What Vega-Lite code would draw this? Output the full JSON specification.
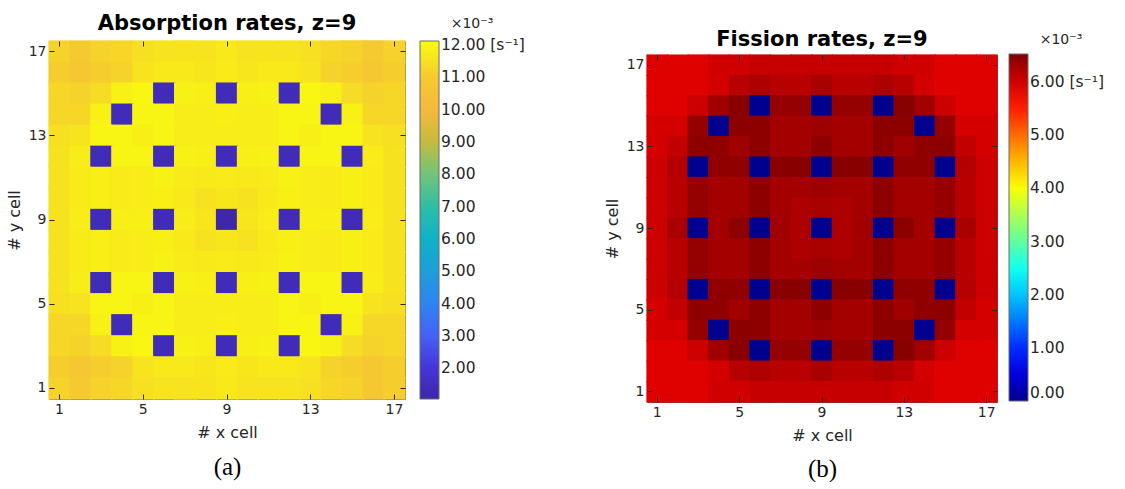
{
  "$schema": "https://vega.github.io/schema/vega-lite/v6.json",
  "background": "white",
  "padding": {"left": 5, "top": 12, "right": 0, "bottom": 0},
  "config": {
    "font": "DejaVu Sans",
    "view": {"stroke": "#5a5a5a", "strokeWidth": 1},
    "axis": {"labelFontSize": 14, "labelColor": "#262626", "tickColor": "#262626", "titleFontSize": 16, "titleFontWeight": "normal", "titleColor": "#262626", "domain": false, "tickSize": -5, "labelPadding": 8, "labelAngle": 0, "grid": false},
    "title": {"fontSize": 21, "fontWeight": "bold", "color": "#000000", "offset": 6},
    "legend": {"type": "gradient", "gradientThickness": 19, "gradientStrokeColor": "#6b6b6b", "gradientStrokeWidth": 1, "labelFontSize": 15.5, "labelColor": "#262626", "labelOffset": 5, "titleFontSize": 14, "titleFontWeight": "normal", "titleColor": "#262626", "titleAnchor": "middle", "titlePadding": 10, "labelOverlap": false}
  },
  "datasets": {
    "cells": [
      {"x":1,"y":17,"a":11.2,"f":5.91},{"x":2,"y":17,"a":11.0,"f":5.91},{"x":3,"y":17,"a":11.2,"f":5.91},{"x":4,"y":17,"a":11.3,"f":6.00},{"x":5,"y":17,"a":11.5,"f":6.00},{"x":6,"y":17,"a":11.6,"f":6.07},{"x":7,"y":17,"a":11.6,"f":6.07},{"x":8,"y":17,"a":11.6,"f":6.07},{"x":9,"y":17,"a":11.7,"f":6.07},{"x":10,"y":17,"a":11.6,"f":6.07},{"x":11,"y":17,"a":11.6,"f":6.07},{"x":12,"y":17,"a":11.6,"f":6.07},{"x":13,"y":17,"a":11.5,"f":6.00},{"x":14,"y":17,"a":11.3,"f":6.00},{"x":15,"y":17,"a":11.2,"f":5.91},{"x":16,"y":17,"a":11.0,"f":5.91},{"x":17,"y":17,"a":11.2,"f":5.91},
      {"x":1,"y":16,"a":11.1,"f":5.91},{"x":2,"y":16,"a":10.9,"f":5.91},{"x":3,"y":16,"a":11.1,"f":5.91},{"x":4,"y":16,"a":11.2,"f":5.98},{"x":5,"y":16,"a":11.6,"f":6.16},{"x":6,"y":16,"a":11.7,"f":6.22},{"x":7,"y":16,"a":11.7,"f":6.16},{"x":8,"y":16,"a":11.65,"f":6.16},{"x":9,"y":16,"a":11.75,"f":6.26},{"x":10,"y":16,"a":11.65,"f":6.16},{"x":11,"y":16,"a":11.7,"f":6.16},{"x":12,"y":16,"a":11.7,"f":6.22},{"x":13,"y":16,"a":11.6,"f":6.16},{"x":14,"y":16,"a":11.2,"f":5.98},{"x":15,"y":16,"a":11.1,"f":5.91},{"x":16,"y":16,"a":10.9,"f":5.91},{"x":17,"y":16,"a":11.1,"f":5.91},
      {"x":1,"y":15,"a":11.3,"f":5.91},{"x":2,"y":15,"a":11.2,"f":5.91},{"x":3,"y":15,"a":11.4,"f":6.03},{"x":4,"y":15,"a":11.9,"f":6.32},{"x":5,"y":15,"a":12.0,"f":6.48},{"x":6,"y":15,"a":1.4,"f":0},{"x":7,"y":15,"a":11.9,"f":6.39},{"x":8,"y":15,"a":11.85,"f":6.39},{"x":9,"y":15,"a":1.4,"f":0},{"x":10,"y":15,"a":11.85,"f":6.39},{"x":11,"y":15,"a":11.9,"f":6.39},{"x":12,"y":15,"a":1.4,"f":0},{"x":13,"y":15,"a":12.0,"f":6.48},{"x":14,"y":15,"a":11.9,"f":6.32},{"x":15,"y":15,"a":11.4,"f":6.03},{"x":16,"y":15,"a":11.2,"f":5.91},{"x":17,"y":15,"a":11.3,"f":5.91},
      {"x":1,"y":14,"a":11.3,"f":5.98},{"x":2,"y":14,"a":11.3,"f":5.98},{"x":3,"y":14,"a":11.9,"f":6.39},{"x":4,"y":14,"a":1.4,"f":0},{"x":5,"y":14,"a":11.95,"f":6.45},{"x":6,"y":14,"a":11.95,"f":6.45},{"x":7,"y":14,"a":11.8,"f":6.29},{"x":8,"y":14,"a":11.8,"f":6.29},{"x":9,"y":14,"a":11.85,"f":6.35},{"x":10,"y":14,"a":11.8,"f":6.29},{"x":11,"y":14,"a":11.8,"f":6.29},{"x":12,"y":14,"a":11.95,"f":6.45},{"x":13,"y":14,"a":11.95,"f":6.45},{"x":14,"y":14,"a":1.4,"f":0},{"x":15,"y":14,"a":11.9,"f":6.39},{"x":16,"y":14,"a":11.3,"f":5.98},{"x":17,"y":14,"a":11.3,"f":5.98},
      {"x":1,"y":13,"a":11.5,"f":5.98},{"x":2,"y":13,"a":11.6,"f":6.10},{"x":3,"y":13,"a":11.95,"f":6.45},{"x":4,"y":13,"a":11.95,"f":6.42},{"x":5,"y":13,"a":11.85,"f":6.32},{"x":6,"y":13,"a":11.95,"f":6.45},{"x":7,"y":13,"a":11.8,"f":6.29},{"x":8,"y":13,"a":11.8,"f":6.29},{"x":9,"y":13,"a":11.8,"f":6.45},{"x":10,"y":13,"a":11.8,"f":6.29},{"x":11,"y":13,"a":11.8,"f":6.29},{"x":12,"y":13,"a":11.95,"f":6.45},{"x":13,"y":13,"a":11.85,"f":6.32},{"x":14,"y":13,"a":11.95,"f":6.42},{"x":15,"y":13,"a":11.95,"f":6.45},{"x":16,"y":13,"a":11.6,"f":6.10},{"x":17,"y":13,"a":11.5,"f":5.98},
      {"x":1,"y":12,"a":11.55,"f":6.03},{"x":2,"y":12,"a":11.8,"f":6.19},{"x":3,"y":12,"a":1.4,"f":0},{"x":4,"y":12,"a":11.95,"f":6.42},{"x":5,"y":12,"a":11.95,"f":6.42},{"x":6,"y":12,"a":1.4,"f":0},{"x":7,"y":12,"a":11.9,"f":6.48},{"x":8,"y":12,"a":11.85,"f":6.48},{"x":9,"y":12,"a":1.4,"f":0},{"x":10,"y":12,"a":11.85,"f":6.48},{"x":11,"y":12,"a":11.9,"f":6.48},{"x":12,"y":12,"a":1.4,"f":0},{"x":13,"y":12,"a":11.95,"f":6.42},{"x":14,"y":12,"a":11.95,"f":6.42},{"x":15,"y":12,"a":1.4,"f":0},{"x":16,"y":12,"a":11.8,"f":6.19},{"x":17,"y":12,"a":11.55,"f":6.03},
      {"x":1,"y":11,"a":11.55,"f":6.03},{"x":2,"y":11,"a":11.75,"f":6.16},{"x":3,"y":11,"a":11.85,"f":6.39},{"x":4,"y":11,"a":11.75,"f":6.29},{"x":5,"y":11,"a":11.8,"f":6.29},{"x":6,"y":11,"a":11.9,"f":6.45},{"x":7,"y":11,"a":11.75,"f":6.29},{"x":8,"y":11,"a":11.7,"f":6.29},{"x":9,"y":11,"a":11.75,"f":6.35},{"x":10,"y":11,"a":11.7,"f":6.29},{"x":11,"y":11,"a":11.75,"f":6.29},{"x":12,"y":11,"a":11.9,"f":6.45},{"x":13,"y":11,"a":11.8,"f":6.29},{"x":14,"y":11,"a":11.75,"f":6.29},{"x":15,"y":11,"a":11.85,"f":6.39},{"x":16,"y":11,"a":11.75,"f":6.16},{"x":17,"y":11,"a":11.55,"f":6.03},
      {"x":1,"y":10,"a":11.55,"f":6.03},{"x":2,"y":10,"a":11.75,"f":6.16},{"x":3,"y":10,"a":11.85,"f":6.39},{"x":4,"y":10,"a":11.75,"f":6.29},{"x":5,"y":10,"a":11.8,"f":6.29},{"x":6,"y":10,"a":11.85,"f":6.45},{"x":7,"y":10,"a":11.7,"f":6.29},{"x":8,"y":10,"a":11.55,"f":6.22},{"x":9,"y":10,"a":11.65,"f":6.26},{"x":10,"y":10,"a":11.55,"f":6.22},{"x":11,"y":10,"a":11.7,"f":6.29},{"x":12,"y":10,"a":11.85,"f":6.45},{"x":13,"y":10,"a":11.8,"f":6.29},{"x":14,"y":10,"a":11.75,"f":6.29},{"x":15,"y":10,"a":11.85,"f":6.39},{"x":16,"y":10,"a":11.75,"f":6.16},{"x":17,"y":10,"a":11.55,"f":6.03},
      {"x":1,"y":9,"a":11.55,"f":6.03},{"x":2,"y":9,"a":11.8,"f":6.26},{"x":3,"y":9,"a":1.4,"f":0},{"x":4,"y":9,"a":11.85,"f":6.29},{"x":5,"y":9,"a":11.85,"f":6.45},{"x":6,"y":9,"a":1.4,"f":0},{"x":7,"y":9,"a":11.8,"f":6.32},{"x":8,"y":9,"a":11.65,"f":6.22},{"x":9,"y":9,"a":1.12,"f":0},{"x":10,"y":9,"a":11.65,"f":6.22},{"x":11,"y":9,"a":11.8,"f":6.32},{"x":12,"y":9,"a":1.4,"f":0},{"x":13,"y":9,"a":11.85,"f":6.45},{"x":14,"y":9,"a":11.85,"f":6.29},{"x":15,"y":9,"a":1.4,"f":0},{"x":16,"y":9,"a":11.8,"f":6.26},{"x":17,"y":9,"a":11.55,"f":6.03},
      {"x":1,"y":8,"a":11.55,"f":6.03},{"x":2,"y":8,"a":11.75,"f":6.16},{"x":3,"y":8,"a":11.85,"f":6.39},{"x":4,"y":8,"a":11.75,"f":6.29},{"x":5,"y":8,"a":11.8,"f":6.29},{"x":6,"y":8,"a":11.85,"f":6.45},{"x":7,"y":8,"a":11.7,"f":6.29},{"x":8,"y":8,"a":11.55,"f":6.22},{"x":9,"y":8,"a":11.65,"f":6.26},{"x":10,"y":8,"a":11.55,"f":6.22},{"x":11,"y":8,"a":11.7,"f":6.29},{"x":12,"y":8,"a":11.85,"f":6.45},{"x":13,"y":8,"a":11.8,"f":6.29},{"x":14,"y":8,"a":11.75,"f":6.29},{"x":15,"y":8,"a":11.85,"f":6.39},{"x":16,"y":8,"a":11.75,"f":6.16},{"x":17,"y":8,"a":11.55,"f":6.03},
      {"x":1,"y":7,"a":11.55,"f":6.03},{"x":2,"y":7,"a":11.75,"f":6.16},{"x":3,"y":7,"a":11.85,"f":6.39},{"x":4,"y":7,"a":11.75,"f":6.29},{"x":5,"y":7,"a":11.8,"f":6.29},{"x":6,"y":7,"a":11.9,"f":6.45},{"x":7,"y":7,"a":11.75,"f":6.29},{"x":8,"y":7,"a":11.7,"f":6.29},{"x":9,"y":7,"a":11.75,"f":6.35},{"x":10,"y":7,"a":11.7,"f":6.29},{"x":11,"y":7,"a":11.75,"f":6.29},{"x":12,"y":7,"a":11.9,"f":6.45},{"x":13,"y":7,"a":11.8,"f":6.29},{"x":14,"y":7,"a":11.75,"f":6.29},{"x":15,"y":7,"a":11.85,"f":6.39},{"x":16,"y":7,"a":11.75,"f":6.16},{"x":17,"y":7,"a":11.55,"f":6.03},
      {"x":1,"y":6,"a":11.55,"f":6.03},{"x":2,"y":6,"a":11.8,"f":6.19},{"x":3,"y":6,"a":1.4,"f":0},{"x":4,"y":6,"a":11.95,"f":6.42},{"x":5,"y":6,"a":11.95,"f":6.42},{"x":6,"y":6,"a":1.4,"f":0},{"x":7,"y":6,"a":11.9,"f":6.48},{"x":8,"y":6,"a":11.85,"f":6.48},{"x":9,"y":6,"a":1.4,"f":0},{"x":10,"y":6,"a":11.85,"f":6.48},{"x":11,"y":6,"a":11.9,"f":6.48},{"x":12,"y":6,"a":1.4,"f":0},{"x":13,"y":6,"a":11.95,"f":6.42},{"x":14,"y":6,"a":11.95,"f":6.42},{"x":15,"y":6,"a":1.4,"f":0},{"x":16,"y":6,"a":11.8,"f":6.19},{"x":17,"y":6,"a":11.55,"f":6.03},
      {"x":1,"y":5,"a":11.5,"f":5.98},{"x":2,"y":5,"a":11.6,"f":6.10},{"x":3,"y":5,"a":11.95,"f":6.45},{"x":4,"y":5,"a":11.95,"f":6.42},{"x":5,"y":5,"a":11.85,"f":6.32},{"x":6,"y":5,"a":11.95,"f":6.45},{"x":7,"y":5,"a":11.8,"f":6.29},{"x":8,"y":5,"a":11.8,"f":6.29},{"x":9,"y":5,"a":11.8,"f":6.45},{"x":10,"y":5,"a":11.8,"f":6.29},{"x":11,"y":5,"a":11.8,"f":6.29},{"x":12,"y":5,"a":11.95,"f":6.45},{"x":13,"y":5,"a":11.85,"f":6.32},{"x":14,"y":5,"a":11.95,"f":6.42},{"x":15,"y":5,"a":11.95,"f":6.45},{"x":16,"y":5,"a":11.6,"f":6.10},{"x":17,"y":5,"a":11.5,"f":5.98},
      {"x":1,"y":4,"a":11.3,"f":5.98},{"x":2,"y":4,"a":11.3,"f":5.98},{"x":3,"y":4,"a":11.9,"f":6.39},{"x":4,"y":4,"a":1.4,"f":0},{"x":5,"y":4,"a":11.95,"f":6.45},{"x":6,"y":4,"a":11.95,"f":6.45},{"x":7,"y":4,"a":11.8,"f":6.29},{"x":8,"y":4,"a":11.8,"f":6.29},{"x":9,"y":4,"a":11.85,"f":6.35},{"x":10,"y":4,"a":11.8,"f":6.29},{"x":11,"y":4,"a":11.8,"f":6.29},{"x":12,"y":4,"a":11.95,"f":6.45},{"x":13,"y":4,"a":11.95,"f":6.45},{"x":14,"y":4,"a":1.4,"f":0},{"x":15,"y":4,"a":11.9,"f":6.39},{"x":16,"y":4,"a":11.3,"f":5.98},{"x":17,"y":4,"a":11.3,"f":5.98},
      {"x":1,"y":3,"a":11.3,"f":5.91},{"x":2,"y":3,"a":11.2,"f":5.91},{"x":3,"y":3,"a":11.4,"f":6.03},{"x":4,"y":3,"a":11.9,"f":6.32},{"x":5,"y":3,"a":12.0,"f":6.48},{"x":6,"y":3,"a":1.4,"f":0},{"x":7,"y":3,"a":11.9,"f":6.39},{"x":8,"y":3,"a":11.85,"f":6.39},{"x":9,"y":3,"a":1.4,"f":0},{"x":10,"y":3,"a":11.85,"f":6.39},{"x":11,"y":3,"a":11.9,"f":6.39},{"x":12,"y":3,"a":1.4,"f":0},{"x":13,"y":3,"a":12.0,"f":6.48},{"x":14,"y":3,"a":11.9,"f":6.32},{"x":15,"y":3,"a":11.4,"f":6.03},{"x":16,"y":3,"a":11.2,"f":5.91},{"x":17,"y":3,"a":11.3,"f":5.91},
      {"x":1,"y":2,"a":11.1,"f":5.91},{"x":2,"y":2,"a":10.9,"f":5.91},{"x":3,"y":2,"a":11.1,"f":5.91},{"x":4,"y":2,"a":11.2,"f":5.98},{"x":5,"y":2,"a":11.6,"f":6.16},{"x":6,"y":2,"a":11.7,"f":6.22},{"x":7,"y":2,"a":11.7,"f":6.16},{"x":8,"y":2,"a":11.65,"f":6.16},{"x":9,"y":2,"a":11.75,"f":6.26},{"x":10,"y":2,"a":11.65,"f":6.16},{"x":11,"y":2,"a":11.7,"f":6.16},{"x":12,"y":2,"a":11.7,"f":6.22},{"x":13,"y":2,"a":11.6,"f":6.16},{"x":14,"y":2,"a":11.2,"f":5.98},{"x":15,"y":2,"a":11.1,"f":5.91},{"x":16,"y":2,"a":10.9,"f":5.91},{"x":17,"y":2,"a":11.1,"f":5.91},
      {"x":1,"y":1,"a":11.2,"f":5.91},{"x":2,"y":1,"a":11.0,"f":5.91},{"x":3,"y":1,"a":11.2,"f":5.91},{"x":4,"y":1,"a":11.3,"f":6.00},{"x":5,"y":1,"a":11.5,"f":6.00},{"x":6,"y":1,"a":11.6,"f":6.07},{"x":7,"y":1,"a":11.6,"f":6.07},{"x":8,"y":1,"a":11.6,"f":6.07},{"x":9,"y":1,"a":11.7,"f":6.07},{"x":10,"y":1,"a":11.6,"f":6.07},{"x":11,"y":1,"a":11.6,"f":6.07},{"x":12,"y":1,"a":11.6,"f":6.07},{"x":13,"y":1,"a":11.5,"f":6.00},{"x":14,"y":1,"a":11.3,"f":6.00},{"x":15,"y":1,"a":11.2,"f":5.91},{"x":16,"y":1,"a":10.9,"f":5.91},{"x":17,"y":1,"a":11.1,"f":5.91}
    ]
  },
  "spacing": 78,
  "resolve": {"scale": {"color": "independent"}, "legend": {"color": "independent"}},
  "hconcat": [
    {
      "vconcat": [
        {
          "data": {"name": "cells"},
          "width": 356,
          "height": 358,
          "title": {"text": "Absorption rates, z=9"},
          "layer": [
            {
              "mark": {"type": "rect", "width": {"band": 1.06}, "height": {"band": 1.06}},
              "encoding": {
                "x": {"field": "x", "type": "ordinal", "axis": {"values": [1, 5, 9, 13, 17], "title": "# x cell", "titlePadding": 8}},
                "y": {"field": "y", "type": "ordinal", "sort": "descending", "axis": {"values": [1, 5, 9, 13, 17], "title": "# y cell", "titlePadding": 6}},
                "color": {
                  "field": "a", "type": "quantitative",
                  "scale": {"domain": [1.05, 2, 3, 4, 5, 6, 7, 8, 9, 10, 11, 12.12], "range": ["#3e26a8", "#4535d8", "#4560f6", "#2f84f2", "#1e9ed8", "#0db2c8", "#2ebea6", "#72c47a", "#c4bb3e", "#f6b93c", "#f5ca30", "#f9fb0e"], "interpolate": "rgb"},
                  "legend": {"orient": "none", "legendX": 371, "legendY": -24, "gradientLength": 358, "title": "×10⁻³", "values": [2, 3, 4, 5, 6, 7, 8, 9, 10, 11, 12], "labelExpr": "datum.value == 12 ? '12.00 [s⁻¹]' : format(datum.value, '.2f')"}
                }
              }
            },
            {
              "mark": {"type": "rect", "opacity": 0},
              "encoding": {
                "x": {"field": "x", "type": "ordinal", "axis": {"orient": "top", "values": [1, 5, 9, 13, 17], "labels": false, "title": null}},
                "y": {"field": "y", "type": "ordinal", "sort": "descending", "axis": {"orient": "right", "values": [1, 5, 9, 13, 17], "labels": false, "title": null}}
              }
            },
            {
              "mark": {"type": "rect", "opacity": 0},
              "encoding": {
                "x": {"field": "x", "type": "ordinal", "axis": {"orient": "bottom", "labels": false, "ticks": false, "title": "(a)", "titlePadding": 55, "titleFont": "Liberation Serif", "titleFontSize": 25, "titleColor": "#000000"}},
                "y": {"field": "y", "type": "ordinal", "sort": "descending", "axis": null}
              }
            }
          ],
          "resolve": {"axis": {"x": "independent", "y": "independent"}}
        }
      ]
    },
    {
      "spacing": -14,
      "vconcat": [
        {
          "data": {"values": []},
          "width": 350,
          "height": 1,
          "view": {"stroke": null},
          "mark": {"type": "rect"},
          "encoding": {}
        },
        {
          "data": {"name": "cells"},
          "width": 350,
          "height": 347,
          "title": {"text": "Fission rates, z=9", "offset": 4},
          "layer": [
            {
              "mark": {"type": "rect", "width": {"band": 1.06}, "height": {"band": 1.06}},
              "encoding": {
                "x": {"field": "x", "type": "ordinal", "axis": {"values": [1, 5, 9, 13, 17], "title": "# x cell", "titlePadding": 8}},
                "y": {"field": "y", "type": "ordinal", "sort": "descending", "axis": {"values": [1, 5, 9, 13, 17], "title": "# y cell", "titlePadding": 6}},
                "color": {
                  "field": "f", "type": "quantitative",
                  "scale": {"domain": [0, 0.72, 2.38, 4.04, 5.70, 6.53], "range": ["#00008f", "#0000ff", "#00ffff", "#ffff00", "#ff0000", "#800000"], "interpolate": "rgb"},
                  "legend": {"orient": "none", "legendX": 362, "legendY": -8, "titlePadding": 7, "gradientLength": 347, "title": "×10⁻³", "values": [0, 1, 2, 3, 4, 5, 6], "labelExpr": "datum.value == 6 ? '6.00   [s⁻¹]' : format(datum.value, '.2f')"}
                }
              }
            },
            {
              "mark": {"type": "rect", "opacity": 0},
              "encoding": {
                "x": {"field": "x", "type": "ordinal", "axis": {"orient": "top", "values": [1, 5, 9, 13, 17], "labels": false, "title": null}},
                "y": {"field": "y", "type": "ordinal", "sort": "descending", "axis": {"orient": "right", "values": [1, 5, 9, 13, 17], "labels": false, "title": null}}
              }
            },
            {
              "mark": {"type": "rect", "opacity": 0},
              "encoding": {
                "x": {"field": "x", "type": "ordinal", "axis": {"orient": "bottom", "labels": false, "ticks": false, "title": "(b)", "titlePadding": 54, "titleFont": "Liberation Serif", "titleFontSize": 25, "titleColor": "#000000"}},
                "y": {"field": "y", "type": "ordinal", "sort": "descending", "axis": null}
              }
            }
          ],
          "resolve": {"axis": {"x": "independent", "y": "independent"}}
        }
      ]
    }
  ]
}
